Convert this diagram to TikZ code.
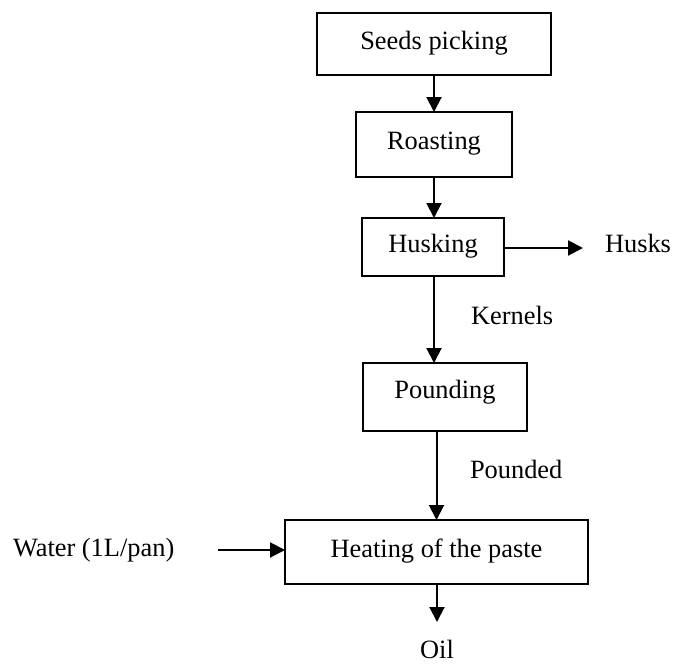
\documentclass[tikz,border=0pt]{standalone}
\usepackage{fontspec}
\setmainfont{Liberation Serif}
\usetikzlibrary{arrows.meta}
\begin{document}
\begin{tikzpicture}[x=1pt,y=-1pt,
  every node/.style={font=\fontsize{26.4}{32}\selectfont, inner sep=0pt, outer sep=0pt},
  stage/.style={draw, line width=2pt, anchor=north, align=center},
  flow/.style={line width=2pt, -{Triangle[length=15pt,width=15pt]}},
  tag/.style={anchor=base west}]
\useasboundingbox (0,0) rectangle (688,664);

% process stages
\node[stage, minimum width=234pt, text height=36pt, text depth=26pt] (seeds) at (434,13) {Seeds picking};
\node[stage, minimum width=156pt, text height=37pt, text depth=28pt] (roast) at (434,112) {Roasting};
\node[stage, minimum width=142pt, text height=34pt, text depth=24pt] (husk) at (433,218) {Husking};
\node[stage, minimum width=164pt, text height=35pt, text depth=33pt] (pound) at (445,363) {Pounding};
\node[stage, minimum width=303pt, text height=37pt, text depth=27pt] (heat) at (436.5,520) {Heating of the paste};

% side streams and labels
\node[tag] (husks) at (605,252) {Husks};
\node[tag] (kernels) at (471,324) {Kernels};
\node[tag] (pounded) at (470,478) {Pounded};
\node[tag] (water) at (13,556) {Water (1L/pan)};
\node[anchor=base] (oil) at (437,658) {Oil};

\coordinate (husksin) at (583,248);
\coordinate (waterout) at (218,550);
\coordinate (oilin) at (437,622);

% connectors
\draw[flow] (seeds.south) -- (roast.north);
\draw[flow] (roast.south) -- (roast.south |- husk.north);
\draw[flow] (husk.east |- husksin) -- (husksin);
\draw[flow] (roast.south |- husk.south) -- (roast.south |- pound.north);
\draw[flow] (heat.north |- pound.south) -- (heat.north);
\draw[flow] (waterout) -- (heat.west |- waterout);
\draw[flow] (heat.south -| oilin) -- (oilin);
\end{tikzpicture}
\end{document}
